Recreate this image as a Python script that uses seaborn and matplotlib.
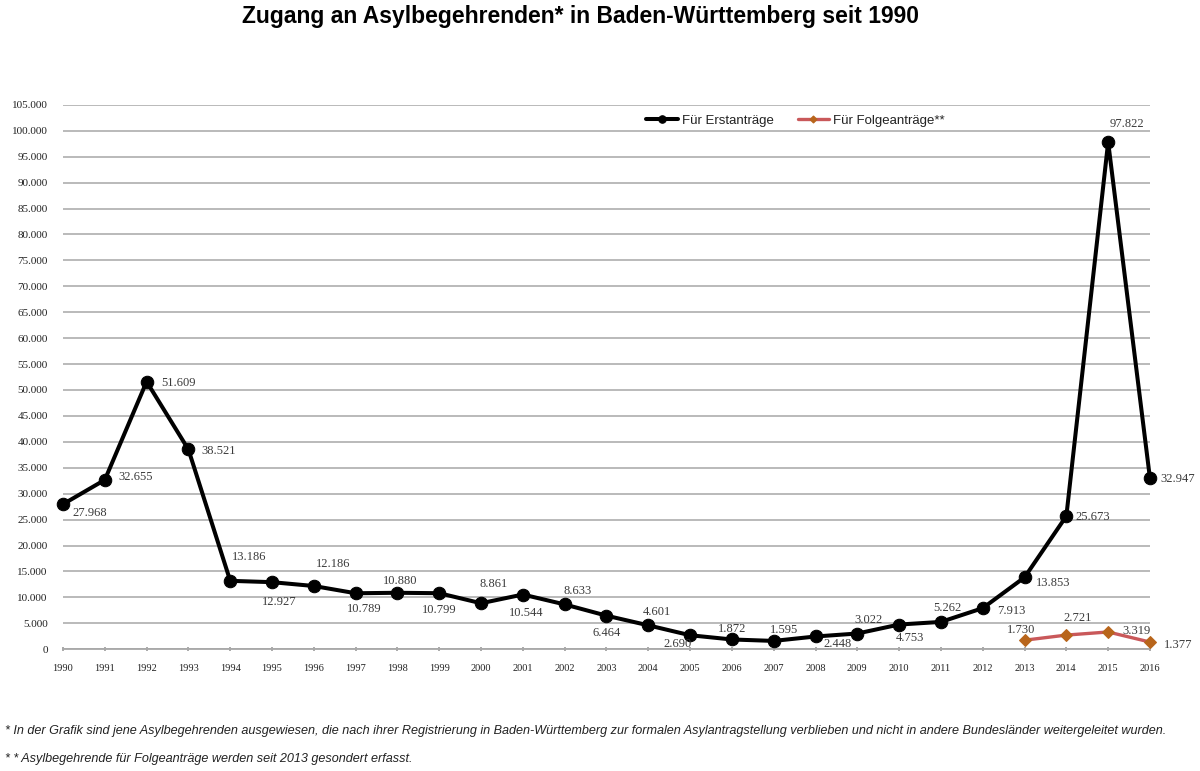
import matplotlib
matplotlib.use("Agg")
import matplotlib.pyplot as plt
import seaborn as sns

# Zugang an Asylbegehrenden in Baden-Württemberg
years = list(range(1990, 2017))
erstantraege = [27968, 32655, 51609, 38521, 13186, 12927, 12186, 10789, 10880, 10799,
                8861, 10544, 8633, 6464, 4601, 2690, 1872, 1595, 2448, 3022,
                4753, 5262, 7913, 13853, 25673, 97822, 32947]
folge_years = [2013, 2014, 2015, 2016]
folgeantraege = [1730, 2721, 3319, 1377]

y_ticks = list(range(0, 105001, 5000))

# label offsets in pixels (dx, dy) - just styling
erst_offsets = [(27, -9), (31, 3), (32, -1), (30, -2), (19, 24), (7, -20), (19, 22), (9, -16),
                (3, 12), (0, -17), (13, 19), (3, -18), (13, 13), (0, -17), (9, 13), (-13, -9),
                (0, 10), (10, 11), (22, -8), (11, 14), (11, -13), (6, 14), (29, -3), (29, -6),
                (26, -1), (19, 18), (28, -1)]
folge_offsets = [(-3, 10), (11, 17), (28, 1), (28, -3)]


def fmt(v):
    return f"{v:,}".replace(",", ".")


sns.set_theme(style="white")
plt.rcParams['font.family'] = ['Liberation Sans', 'DejaVu Sans']

fig = plt.figure(figsize=(12, 7.71), dpi=100)
ax = fig.add_axes([0.0525, 0.158, 0.9058, 0.706])

sns.lineplot(x=years, y=erstantraege, ax=ax, color='black', linewidth=2.9,
             marker='o', markersize=9, markeredgecolor='black', label='Für Erstanträge', zorder=4)
sns.lineplot(x=folge_years, y=folgeantraege, ax=ax, color='#C9585A', linewidth=2.4,
             marker='D', markersize=6, markerfacecolor='#B8651B', markeredgecolor='#B8651B',
             label='Für Folgeanträge**', zorder=3)
for ln in ax.lines:
    ln.set_clip_on(False)

for x, v, (dx, dy) in zip(years, erstantraege, erst_offsets):
    ax.annotate(fmt(v), (x, v), xytext=(dx, dy), textcoords='offset pixels',
                ha='center', va='center', fontsize=9, color='#3a3a3a',
                family='Liberation Serif', zorder=6)
for x, v, (dx, dy) in zip(folge_years, folgeantraege, folge_offsets):
    ax.annotate(fmt(v), (x, v), xytext=(dx, dy), textcoords='offset pixels',
                ha='center', va='center', fontsize=9, color='#3a3a3a',
                family='Liberation Serif', zorder=6)

ax.set_xlim(1990, 2016)
ax.set_ylim(0, 105000)
ax.set_xticks(years)
ax.set_xticklabels([str(y) for y in years], family='Liberation Serif', fontsize=7.5, color='#222222')
ax.set_yticks(y_ticks)
ax.set_yticklabels([fmt(t) for t in y_ticks], family='Liberation Serif', fontsize=8, color='#222222')
ax.tick_params(axis='y', length=0, pad=11)
ax.tick_params(axis='x', length=3, direction='inout', color='#a0a0a0', pad=9, bottom=True)
ax.yaxis.grid(True, color='#b4b4b4', linewidth=1.3)
ax.xaxis.grid(False)
for s in ['top', 'right', 'left']:
    ax.spines[s].set_visible(False)
ax.spines['bottom'].set_color('#a8a8a8')
ax.spines['bottom'].set_linewidth(1.3)
ax.set_xlabel('')
ax.set_ylabel('')
ax.set_axisbelow(True)

leg = ax.legend(loc='center', bbox_to_anchor=(0.674, 0.971), ncol=2, frameon=False,
                fontsize=9.5, handlelength=2.4, markerscale=0.6, columnspacing=1.8,
                handletextpad=0.3)
for t in leg.get_texts():
    t.set_color('#222222')

fig.text(0.484, 0.978, 'Zugang an Asylbegehrenden* in Baden-Württemberg seit 1990',
         ha='center', va='center', fontsize=16.5, fontweight='bold', color='black')
fig.text(0.004, 0.052, '* In der Grafik sind jene Asylbegehrenden ausgewiesen, die nach ihrer Registrierung in '
         'Baden-Württemberg zur formalen Asylantragstellung verblieben und nicht in andere Bundesländer '
         'weitergeleitet wurden.', ha='left', va='center', fontsize=9.1, style='italic', color='#222222')
fig.text(0.004, 0.016, '* * Asylbegehrende für Folgeanträge werden seit 2013 gesondert erfasst.',
         ha='left', va='center', fontsize=9.1, style='italic', color='#222222')

fig.savefig('out.png', dpi=100, facecolor='white')
